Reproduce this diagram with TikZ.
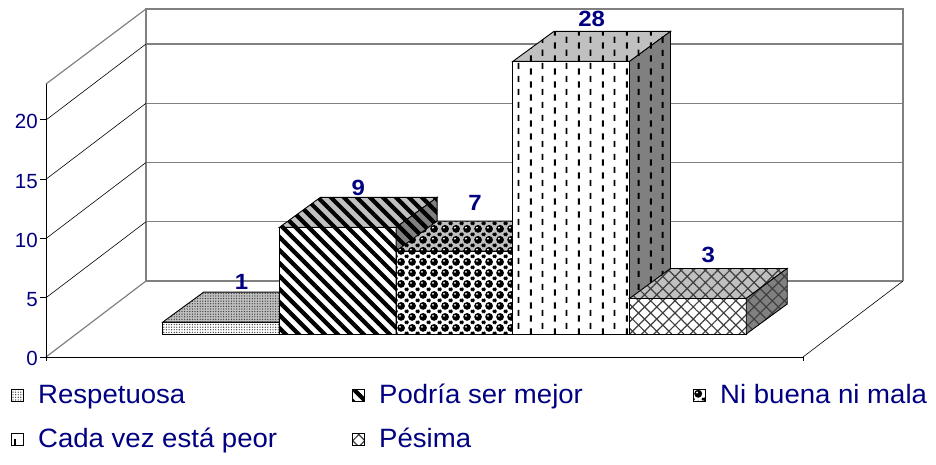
\documentclass[tikz,border=0pt]{standalone}
\usepackage{fontspec}
\setmainfont{Liberation Sans}
\newfontfamily\legendfont{Liberation Sans}[FakeStretch=1.04]
\newfontfamily\labelfont{Liberation Sans}[FakeStretch=1.09]
\usetikzlibrary{patterns,patterns.meta}

\definecolor{navytext}{RGB}{0,0,128}
\definecolor{gridgray}{RGB}{128,128,128}
\definecolor{topgray}{RGB}{192,192,192}
\definecolor{sidegray}{RGB}{128,128,128}

% vertical dashes
\tikzdeclarepattern{
  name=vdashes,
  type=uncolored,
  bottom left={(0pt,0pt)},
  top right={(24pt,13pt)},
  tile size={(24pt,13pt)},
  code={
    \tikzset{x=1pt,y=1pt}
    \fill (2,0.5) rectangle (4,7);
    \fill (14,6.5) rectangle (16,13);
  }
}

% black spheres
\tikzdeclarepattern{
  name=spheres,
  type=colored,
  bottom left={(0pt,0pt)},
  top right={(11pt,11pt)},
  tile size={(11pt,11pt)},
  code={
    \tikzset{x=1pt,y=1pt}
    \fill[black] (5.5,5.5) circle (4.2pt);
    \fill[white] (4.3,6.7) circle (1.1pt);
    \fill[black] (0,0) circle (2pt);
    \fill[black] (11,0) circle (2pt);
    \fill[black] (0,11) circle (2pt);
    \fill[black] (11,11) circle (2pt);
  }
}

\begin{document}
\begin{tikzpicture}[x=1pt,y=-1pt,
    wall/.style={draw=gridgray, line width=1.2pt},
    diag/.style={draw=black, line width=0.6pt},
    axisline/.style={draw=black, line width=1pt},
    face/.style={preaction={fill=#1}, draw=black, line width=0.9pt},
    ticklabel/.style={text=navytext, font=\fontsize{20.5}{24}\selectfont, anchor=east, inner sep=0pt},
    barlabel/.style={text=navytext, font=\labelfont\fontsize{22}{26}\selectfont\bfseries, anchor=base, inner sep=0pt},
    legendlabel/.style={text=navytext, font=\legendfont\fontsize{26.5}{30}\selectfont, anchor=base west, inner sep=0pt},
    resppat/.style={pattern={Dots[radius=0.7pt,distance=2.6pt]}, pattern color=black!75},
    podriapat/.style={pattern={Lines[angle=-45,distance=9.2pt,line width=4.2pt]}, pattern color=black},
    nibuenapat/.style={pattern=spheres},
    cadapat/.style={pattern=vdashes, pattern color=black},
    pesimapat/.style={pattern={Hatch[angle=45,distance=8.6pt,line width=1.2pt]}, pattern color=black!75}]
    \useasboundingbox (0,0) rectangle (936,465);

    % Parameters
    \def\unit{11.85}
    \def\vmax{23}
    \def\barx{162.7}
    \def\barwidth{116.7}
    \def\basey{334}
    \def\depthx{41}
    \def\depthy{30}

    % Back wall and gridlines
    \draw[wall] (146,281) -- (146,9) -- (903,9) -- (903,281);
    \foreach \v in {0,5,10,15,20}
        \draw[wall] (146,{281-\v*\unit}) -- (903,{281-\v*\unit});

    % Side wall diagonals
    \draw[wall] (46,357) -- (146,281);
    \draw[wall] (46,84) -- (146,9);
    \foreach \v in {5,10,15,20}
        \draw[diag] (46,{357-\v*\unit}) -- (146,{281-\v*\unit});

    % Axes and floor
    \draw[axisline] (46,84) -- (46,361);
    \draw[axisline] (46,357) -- (803,357);
    \draw[axisline] (803,357) -- (803,361);
    \draw[diag] (803,357) -- (903,281);
    \foreach \v in {0,5,10,15,20} {
        \draw[axisline] (40,{357-\v*\unit}) -- (46,{357-\v*\unit});
        \node[ticklabel] (tick\v) at (38,{357-\v*\unit+1.8}) {\v};
    }

    % Draw bars
    \foreach \i/\val/\pat/\laby in {0/1/resppat/289, 1/9/podriapat/195, 2/7/nibuenapat/210, 3/28/cadapat/26.7, 4/3/pesimapat/262.7} {
        \pgfmathsetmacro{\xa}{\barx+\i*\barwidth}
        \pgfmathsetmacro{\barh}{min(\val,\vmax)*\unit}
        \path[face=white, \pat] ({\xa},{\basey}) rectangle ++(\barwidth,{-\barh});
        \path[face=topgray, \pat] ({\xa},{\basey-\barh}) -- ++(\depthx,-\depthy) -- ++(\barwidth,0) -- ++(-\depthx,\depthy) -- cycle;
        \path[face=sidegray, \pat] ({\xa+\barwidth},{\basey}) -- ++(\depthx,-\depthy) -- ++(0,{-\barh}) -- ++(-\depthx,\depthy) -- cycle;
        \node[barlabel] (val\i) at ({\xa+\barwidth/2+\depthx/2},\laby) {\val};
    }

    % Legend
    \foreach \col/\row/\pat/\txt [count=\k] in {11/0/resppat/Respetuosa, 352/0/podriapat/Podría ser mejor, 693/0/nibuenapat/Ni buena ni mala, 11/1/cadapat/Cada vez está peor, 352/1/pesimapat/Pésima} {
        \path[face=white, \pat] (\col,{389+\row*44.4}) rectangle ++(12,12);
        \node[legendlabel] (leg\k) at ({\col+27},{403.3+\row*44.4}) {\txt};
    }
\end{tikzpicture}
\end{document}
